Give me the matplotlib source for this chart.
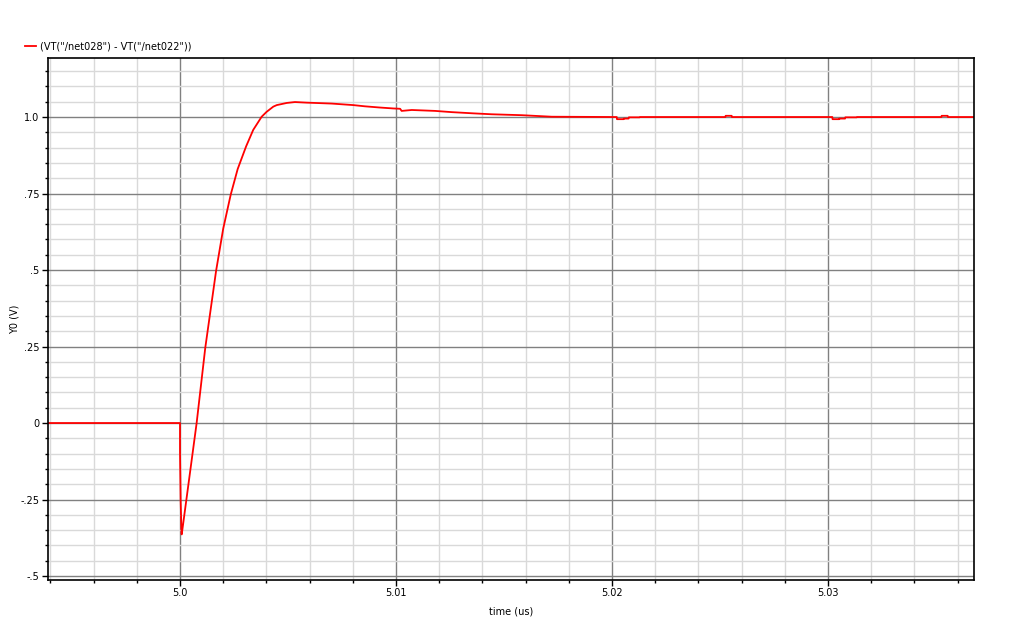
import matplotlib
matplotlib.use('Agg')
import matplotlib.pyplot as plt
import numpy as np
from matplotlib.ticker import MultipleLocator, FixedLocator

# Datos (tiempo en us, tension en V)
tiempo = [4.99389, 5.00000, 5.00000, 5.00003, 5.00007, 5.00008, 5.00077, 5.00117,
          5.00167, 5.00200, 5.00235, 5.00267, 5.00306, 5.00339, 5.00378, 5.00401,
          5.00432, 5.00448, 5.00494, 5.00532, 5.00587, 5.00702, 5.00802, 5.00856,
          5.00926, 5.00988, 5.01019, 5.01026, 5.01073, 5.01181, 5.01258, 5.01358,
          5.01443, 5.01582, 5.01721, 5.02022,
          5.02023, 5.02054, 5.02055, 5.02077, 5.02078, 5.02128, 5.02129,
          5.02525, 5.02526, 5.02554, 5.02555,
          5.03020, 5.03021, 5.03052, 5.03053, 5.03079, 5.03080, 5.03133, 5.03134,
          5.03525, 5.03526, 5.03554, 5.03555, 5.03680]
tension = [0.0, 0.0, -0.094, -0.253, -0.362, -0.364, 0.0, 0.246,
           0.497, 0.635, 0.747, 0.830, 0.904, 0.958, 1.001, 1.017,
           1.034, 1.039, 1.046, 1.049, 1.047, 1.044, 1.039, 1.035,
           1.031, 1.028, 1.027, 1.020, 1.023, 1.020, 1.016, 1.012,
           1.009, 1.006, 1.001, 1.000,
           0.993, 0.993, 0.995, 0.995, 0.999, 0.999, 1.000,
           1.000, 1.004, 1.004, 1.000,
           1.000, 0.993, 0.993, 0.995, 0.995, 0.999, 0.999, 1.000,
           1.000, 1.004, 1.004, 1.000, 1.000]

yticks = [-0.5, -0.25, 0.0, 0.25, 0.5, 0.75, 1.0]
ytick_labels = ['-.5', '-.25', '0', '.25', '.5', '.75', '1.0']
xticks = [5.00, 5.01, 5.02, 5.03]
xtick_labels = ['5.0', '5.01', '5.02', '5.03']
etiqueta = '(VT("/net028") - VT("/net022"))'

fig = plt.figure(figsize=(10.24, 6.2), dpi=100)
ax = fig.add_axes([0.0469, 0.0645, 0.9043, 0.842])

# Rejilla menor y mayor
ax.xaxis.set_major_locator(FixedLocator(xticks))
ax.xaxis.set_minor_locator(MultipleLocator(0.002))
ax.yaxis.set_major_locator(FixedLocator(yticks))
ax.yaxis.set_minor_locator(MultipleLocator(0.05))
ax.grid(True, which='minor', color='#d9d9d9', linewidth=1.0)
ax.grid(True, which='major', color='#808080', linewidth=1.0)
ax.set_axisbelow(True)

ax.plot(tiempo, tension, color='red', linewidth=1.3, label=etiqueta)

ax.set_xlim(4.99389, 5.03676)
ax.set_ylim(-0.513, 1.193)
ax.set_xticklabels(xtick_labels)
ax.set_yticklabels(ytick_labels)

ax.tick_params(which='major', direction='out', length=4, width=1, labelsize=7, pad=2)
ax.tick_params(which='minor', direction='out', length=2.5, width=1)
for s in ax.spines.values():
    s.set_color('black')
    s.set_linewidth(1.2)

ax.set_xlabel('time (us)', fontsize=7, labelpad=6)
ax.set_ylabel('Y0 (V)', fontsize=7)
ax.yaxis.set_label_coords(-0.031, 0.5)

ax.legend(loc='lower left', bbox_to_anchor=(0.024, 0.917), bbox_transform=fig.transFigure,
          frameon=False, fontsize=7, handlelength=1.2, handletextpad=0.4,
          borderaxespad=0, borderpad=0)

plt.savefig('out.png', dpi=100)
